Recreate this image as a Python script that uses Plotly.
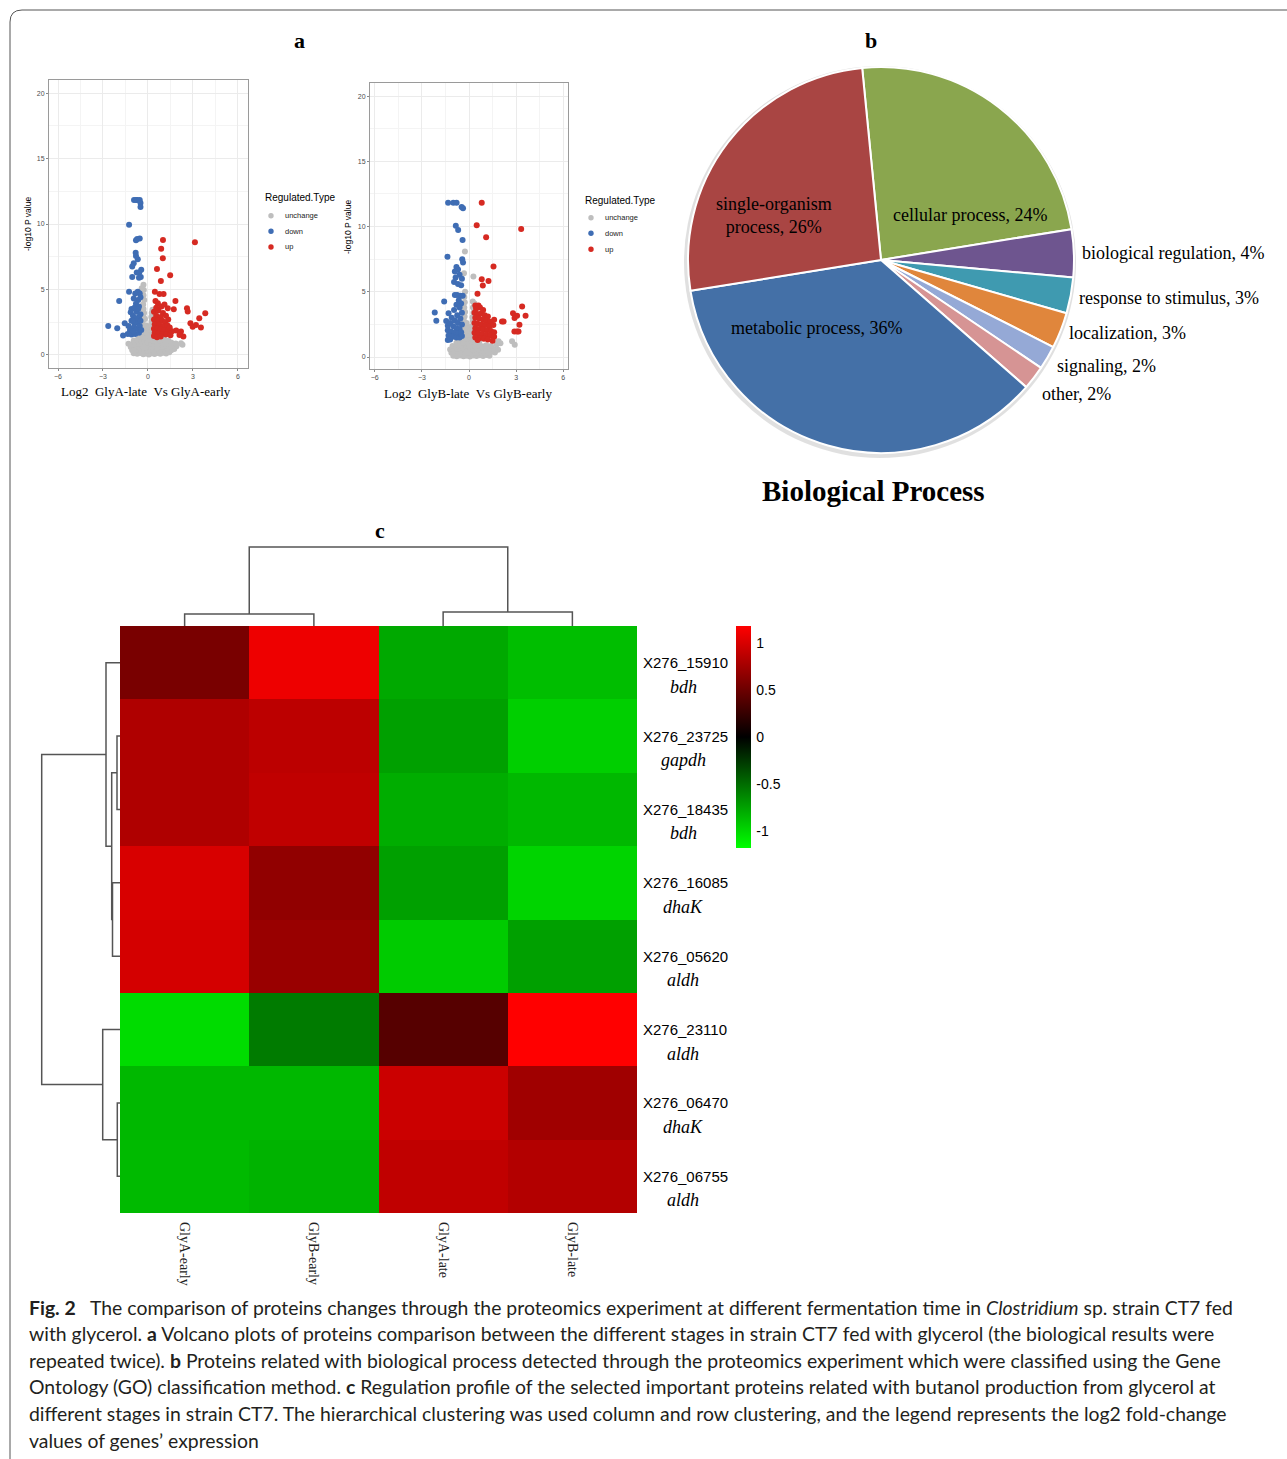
import plotly.graph_objects as go

W, H = 1287, 1459
def px(x): return x / W
def py(y): return 1 - y / H

SERIF = "Liberation Serif"
SANS = "Liberation Sans"

# ---------------- Volcano A data (Log2 GlyA-late Vs GlyA-early) ----------------
volA_unchange = [
(-0.95,0.12),(-0.72,0.08),(-0.5,0.15),(-0.31,0.05),(-0.12,0.1),(0.06,0.04),(0.25,0.12),(0.44,0.07),(0.63,0.14),(0.82,0.09),(1.02,0.16),(1.21,0.1),(1.42,0.2),
(-1.05,0.35),(-0.85,0.3),(-0.64,0.38),(-0.42,0.28),(-0.22,0.36),(-0.03,0.3),(0.17,0.4),(0.36,0.32),(0.55,0.38),(0.74,0.3),(0.93,0.4),(1.12,0.34),(1.32,0.42),(1.55,0.36),(1.75,0.45),
(-1.15,0.6),(-0.93,0.55),(-0.74,0.62),(-0.55,0.56),(-0.35,0.64),(-0.15,0.58),(0.05,0.66),(0.24,0.58),(0.43,0.65),(0.62,0.57),(0.82,0.66),(1.0,0.6),(1.2,0.68),(1.42,0.62),(1.65,0.7),(1.9,0.66),
(-1.3,0.85),(-1.05,0.82),(-0.82,0.9),(-0.6,0.84),(-0.4,0.92),(-0.2,0.86),(0.0,0.95),(0.2,0.87),(0.4,0.93),(0.6,0.85),(0.82,0.92),(1.05,0.86),(1.3,0.9),(1.55,0.95),(1.85,0.88),(2.2,0.9),(2.3,0.78),
(-0.95,1.1),(-0.7,1.15),(-0.48,1.1),(-0.28,1.18),(-0.08,1.1),(0.12,1.2),(0.32,1.12),(0.55,1.18),(0.8,1.1),(1.1,1.15),(1.35,1.08),
(-0.55,1.38),(-0.35,1.42),(-0.15,1.35),(0.05,1.45),(0.25,1.38),(0.4,1.3),
(-0.42,1.65),(-0.22,1.7),(-0.02,1.62),(0.18,1.72),(0.33,1.6),
(-0.36,1.95),(-0.16,2.0),(0.06,1.92),(0.26,2.02),
(-0.32,2.3),(-0.12,2.25),(0.2,2.3),
(-0.35,2.6),(0.24,2.58),(-0.2,2.75),
(-0.3,2.9),(0.22,2.9),
(-0.26,3.2),(0.25,3.2),
(-0.3,3.5),(0.3,3.45),
(-0.32,3.85),(-0.25,4.2),(-0.3,4.55),(-0.28,4.95),(-0.3,5.35),(-0.42,5.1),
]
volA_down = [
(-0.93,11.83),(-0.8,11.83),(-0.71,11.83),(-0.55,11.83),(-0.5,11.6),(-0.5,11.3),
(-1.26,9.95),
(-0.8,8.75),(-0.72,8.85),(-0.55,8.9),
(-0.82,7.8),(-0.8,7.55),(-0.68,7.3),
(-0.95,7.0),(-1.05,6.75),(-0.45,6.5),(-0.58,6.3),(-0.75,6.3),
(-1.05,5.95),(-0.48,5.95),(-0.6,5.9),
(-1.26,4.83),(-0.68,4.83),(-0.55,4.7),(-0.85,4.7),
(-1.92,4.12),(-0.95,4.3),(-0.65,4.2),(-0.5,4.4),
(-0.8,3.9),(-1.1,3.5),(-0.6,3.7),(-0.9,3.6),
(-1.15,3.25),(-0.75,3.3),(-0.5,3.1),(-1.0,3.0),(-0.6,2.9),
(-2.65,2.21),(-2.05,2.04),(-1.55,2.42),(-1.66,1.48),
(-1.3,2.2),(-1.2,1.9),(-1.1,2.6),(-0.9,2.4),(-0.7,2.5),(-0.5,2.6),(-0.95,2.1),(-0.75,2.0),(-0.55,2.2),
(-1.35,1.6),(-1.1,1.55),(-0.85,1.6),(-0.6,1.7),(-1.0,1.8),(-0.45,1.9),
(-0.65,3.5),(-0.85,2.8),(-1.0,2.6),
]
volA_up = [
(1.0,8.78),(0.88,8.1),(0.99,7.38),(3.13,8.6),(0.6,6.56),(1.48,6.08),(0.86,5.65),
(0.46,4.83),(0.77,4.66),(1.04,4.66),(1.83,4.12),(0.5,4.12),(0.66,3.94),(1.32,3.56),(1.72,3.49),
(2.6,3.56),(2.65,3.31),(3.82,3.18),(3.42,2.8),(2.83,2.42),(2.98,2.16),(3.2,2.29),(3.53,2.09),
(1.88,1.86),(2.2,1.78),(2.36,1.4),(2.1,1.53),
(0.4,3.3),(0.7,3.4),(1.0,3.2),(1.2,3.0),(0.55,3.0),(0.85,2.9),(1.35,2.7),(0.4,2.7),(0.65,2.6),
(0.95,2.6),(1.15,2.5),(0.45,2.35),(0.75,2.3),(1.05,2.2),(1.3,2.25),(0.4,2.0),(0.6,2.0),(0.85,1.95),
(1.1,1.9),(1.35,1.85),(0.45,1.7),(0.7,1.65),(0.95,1.6),(1.2,1.55),(0.4,1.45),(0.6,1.35),(0.85,1.4),
(1.5,1.5),(1.6,1.8),(1.45,2.1),(0.55,3.6),(0.9,3.7),(1.1,3.85),
]

# ---------------- Volcano B data (Log2 GlyB-late Vs GlyB-early) ----------------
volB_unchange = [
(-1.0,0.1),(-0.78,0.05),(-0.56,0.12),(-0.35,0.06),(-0.14,0.1),(0.06,0.04),(0.27,0.12),(0.48,0.07),(0.69,0.13),(0.9,0.08),(1.1,0.15),(1.3,0.1),
(-1.12,0.33),(-0.9,0.3),(-0.68,0.37),(-0.46,0.29),(-0.25,0.36),(-0.04,0.3),(0.17,0.38),(0.38,0.31),(0.59,0.37),(0.8,0.3),(1.0,0.38),(1.2,0.33),(1.45,0.4),(1.65,0.35),
(-1.2,0.58),(-0.98,0.55),(-0.76,0.62),(-0.55,0.56),(-0.34,0.64),(-0.13,0.57),(0.08,0.65),(0.29,0.58),(0.5,0.64),(0.71,0.56),(0.92,0.63),(1.13,0.58),(1.35,0.66),(1.6,0.6),(1.85,0.55),
(-1.05,0.85),(-0.82,0.8),(-0.6,0.88),(-0.4,0.82),(-0.2,0.9),(0.0,0.83),(0.2,0.92),(0.4,0.85),(0.62,0.9),(0.85,0.83),(1.1,0.9),(1.4,0.85),(1.75,0.95),(2.0,1.05),(2.74,1.2),(2.91,0.94),(1.88,1.2),
(-0.8,1.1),(-0.58,1.15),(-0.38,1.08),(-0.18,1.17),(0.02,1.1),(0.22,1.18),(0.42,1.1),(0.65,1.15),
(-0.5,1.4),(-0.3,1.45),(-0.1,1.38),(0.1,1.46),(0.28,1.36),
(-0.4,1.7),(-0.2,1.75),(0.0,1.68),(0.2,1.75),
(-0.35,2.05),(-0.15,2.0),(0.1,2.08),(0.25,2.0),
(-0.3,2.4),(-0.1,2.35),(0.22,2.4),
(-0.32,2.75),(0.25,2.75),(-0.15,2.6),
(-0.28,3.1),(0.22,3.05),(-0.25,3.45),(0.28,3.4),
(-0.3,3.8),(0.25,3.8),(0.24,4.25),(0.35,4.1),(-0.27,4.2),(-0.3,4.6),(-0.25,5.0),
(-0.32,6.42),(0.28,6.17),(-0.26,8.08),
]
volB_down = [
(-1.33,11.82),(-1.0,11.82),(-0.79,11.82),(-0.47,11.5),(-0.38,11.4),
(-0.84,10.06),(-0.69,9.73),(-0.41,8.97),(-1.37,7.69),(-0.43,7.49),(-0.38,7.24),
(-0.8,6.9),(-0.9,6.55),(-0.7,6.7),(-0.6,6.3),(-0.85,6.1),(-0.45,6.0),(-0.95,5.75),(-0.7,5.6),(-0.5,5.5),
(-0.9,4.75),(-0.75,4.75),(-0.55,4.7),(-0.4,4.7),(-1.58,4.25),(-0.65,4.35),(-0.5,4.1),(-0.8,4.0),
(-2.18,3.41),(-2.08,2.78),(-1.3,3.35),(-0.95,3.6),(-0.6,3.8),(-0.45,3.4),(-0.75,3.2),(-1.1,3.0),(-0.55,2.95),(-0.9,2.8),
(-1.45,2.75),(-1.35,2.4),(-1.2,2.6),(-0.7,2.6),(-0.45,2.5),(-1.0,2.35),(-0.8,2.2),(-0.6,2.15),
(-1.35,2.05),(-1.15,1.95),(-0.95,1.85),(-0.7,1.8),(-0.5,1.9),(-1.3,1.65),(-1.05,1.55),(-0.8,1.5),
(-1.35,1.3),(-0.6,1.5),(-0.45,1.6),(-1.2,1.35),
]
volB_up = [
(0.81,11.82),(0.49,10.09),(1.09,9.17),(3.32,9.81),(1.56,6.93),(0.81,5.96),(1.24,5.83),(0.88,5.48),(0.54,4.84),
(0.4,3.95),(0.6,3.95),(0.7,3.8),(1.6,2.85),(2.1,2.73),(2.2,2.73),(2.8,3.36),(3.06,3.16),(2.9,2.98),
(3.38,3.87),(3.6,3.16),(3.21,2.47),(2.89,1.96),(3.06,1.96),(3.15,1.95),
(0.35,3.4),(0.55,3.3),(0.8,3.35),(1.0,3.2),(1.2,3.1),(0.4,3.0),(0.65,2.95),(0.9,2.85),(1.1,2.8),
(1.35,2.7),(0.35,2.6),(0.55,2.55),(0.8,2.5),(1.05,2.45),(1.3,2.35),(1.55,2.45),(0.4,2.2),(0.65,2.15),
(0.9,2.1),(1.15,2.05),(1.4,2.0),(1.6,1.9),(0.35,1.85),(0.6,1.8),(0.85,1.75),(1.1,1.7),(1.35,1.65),
(1.6,1.55),(0.4,1.5),(0.7,1.45),(0.95,1.4),(1.2,1.35),(1.5,1.25),(0.55,1.3),(0.45,3.7),(0.9,3.6),
]

reg_types = ["unchange", "down", "up"]
reg_colors = ["#BEBEBE", "#3F6DB4", "#D62A22"]
volcano_ticks_x = [-6, -3, 0, 3, 6]
volcano_ticks_y = [0, 5, 10, 15, 20]

# ---------------- Pie data ----------------
pie_labels = ["cellular process", "biological regulation", "response to stimulus", "localization",
              "signaling", "other", "metabolic process", "single-organism process"]
pie_values = [24, 4, 3, 3, 2, 2, 36, 26]
pie_colors = ["#8AA64E", "#6E558F", "#3F9AB0", "#E0863C", "#95A9D6", "#D69494", "#4470A7", "#A94543"]

# ---------------- Heatmap data ----------------
heat_cols = ["GlyA-early", "GlyB-early", "GlyA-late", "GlyB-late"]
heat_ids = ["X276_15910", "X276_23725", "X276_18435", "X276_16085",
            "X276_05620", "X276_23110", "X276_06470", "X276_06755"]
heat_genes = ["bdh", "gapdh", "bdh", "dhaK", "aldh", "aldh", "dhaK", "aldh"]
heat_values = [
    [0.56, 1.10, -0.78, -0.88],
    [0.81, 0.87, -0.74, -0.96],
    [0.81, 0.89, -0.80, -0.85],
    [1.00, 0.67, -0.74, -0.98],
    [0.98, 0.71, -0.94, -0.74],
    [-1.02, -0.57, 0.40, 1.18],
    [-0.85, -0.85, 0.94, 0.74],
    [-0.86, -0.83, 0.89, 0.83],
]
colorbar_ticks = [1, 0.5, 0, -0.5, -1]
# dendrogram merges (child_a, child_b, height); indices >= n refer to earlier merges
row_merges = [(1, 2, 3.0), (6, 7, 2.7), (3, 4, 7.5), (8, 10, 8.3), (0, 11, 14.0), (5, 9, 17.3), (12, 13, 78.3)]
col_merges = [(0, 1, 12.0), (2, 3, 14.0), (4, 5, 79.0)]

caption_lines = [
    "<b>Fig. 2</b>\u00a0\u00a0 The comparison of proteins changes through the proteomics experiment at different fermentation time in <i>Clostridium</i> sp. strain CT7 fed",
    "with glycerol. <b>a</b> Volcano plots of proteins comparison between the different stages in strain CT7 fed with glycerol (the biological results were",
    "repeated twice). <b>b</b> Proteins related with biological process detected through the proteomics experiment which were classified using the Gene",
    "Ontology (GO) classification method. <b>c</b> Regulation profile of the selected important proteins related with butanol production from glycerol at",
    "different stages in strain CT7. The hierarchical clustering was used column and row clustering, and the legend represents the log2 fold-change",
    "values of genes\u2019 expression",
]

fig = go.Figure()

# ---------------- Volcano traces ----------------
for xa, ya, groups in [("x", "y", [volA_unchange, volA_down, volA_up]),
                       ("x2", "y2", [volB_unchange, volB_down, volB_up])]:
    for pts, nm, col in zip(groups, reg_types, reg_colors):
        fig.add_trace(go.Scatter(x=[p[0] for p in pts], y=[p[1] for p in pts], mode="markers",
                                 marker=dict(color=col, size=6, line=dict(width=0)),
                                 name=nm, xaxis=xa, yaxis=ya, showlegend=False, hoverinfo="skip"))

# ---------------- Pie ----------------
fig.add_trace(go.Pie(values=pie_values, labels=pie_labels, sort=False, direction="clockwise",
                     rotation=-5.6, textinfo="none", hoverinfo="skip", showlegend=False,
                     marker=dict(colors=pie_colors, line=dict(color="white", width=2)),
                     domain=dict(x=[px(687), px(1075)], y=[py(453), py(67)])))

# ---------------- Heatmap ----------------
fig.add_trace(go.Heatmap(z=heat_values, x=list(range(len(heat_cols))), y=list(range(len(heat_ids))),
                         colorscale=[[0, "#00FF00"], [0.5, "#000000"], [1, "#FF0000"]],
                         zmin=-1.18, zmax=1.18, xaxis="x3", yaxis="y3", hoverinfo="skip",
                         colorbar=dict(thickness=15, thicknessmode="pixels", len=222 / H, lenmode="fraction",
                                       x=px(736), xanchor="left", y=py(626), yanchor="top",
                                       xpad=0, ypad=0, outlinewidth=0,
                                       ticks="outside", ticklen=3, tickcolor="rgba(0,0,0,0)",
                                       tickvals=colorbar_ticks, ticktext=[str(t) for t in colorbar_ticks],
                                       tickfont=dict(family=SANS, size=14, color="black"))))

def dendro(merges, n):
    pos = list(range(n)); hts = [0.0] * n
    p_list, h_list = [], []
    for a, b, h in merges:
        p_list += [pos[a], pos[a], pos[b], pos[b], None]
        h_list += [hts[a], h, h, hts[b], None]
        pos.append((pos[a] + pos[b]) / 2); hts.append(h)
    return p_list, h_list

cp, ch = dendro(col_merges, len(heat_cols))
fig.add_trace(go.Scatter(x=cp, y=ch, mode="lines", line=dict(color="#555555", width=1.5),
                         xaxis="x4", yaxis="y4", showlegend=False, hoverinfo="skip"))
rp, rh = dendro(row_merges, len(heat_ids))
fig.add_trace(go.Scatter(x=rh, y=rp, mode="lines", line=dict(color="#555555", width=1.5),
                         xaxis="x5", yaxis="y5", showlegend=False, hoverinfo="skip"))

# ---------------- Axes ----------------
def volcano_axes(xdom, ydom, xr, yr, anchor_x, anchor_y):
    common = dict(showline=True, mirror=True, linecolor="#9A9A9A", linewidth=1,
                  gridcolor="#EBEBEB", gridwidth=1, zeroline=False, ticks="outside",
                  ticklen=2, tickcolor="#888888", tickfont=dict(family=SANS, size=7, color="#4D4D4D"))
    xa = dict(domain=xdom, range=xr, tickvals=volcano_ticks_x, anchor=anchor_y,
              minor=dict(dtick=1.5, tick0=0, showgrid=True, gridcolor="#F4F4F4", ticks=""), **common)
    ya = dict(domain=ydom, range=yr, tickvals=volcano_ticks_y, anchor=anchor_x,
              minor=dict(dtick=2.5, tick0=0, showgrid=True, gridcolor="#F4F4F4", ticks=""), **common)
    return xa, ya

xa1, ya1 = volcano_axes([px(49), px(248)], [py(368), py(80)], [-6.6, 6.67], [-1, 21], "x", "y")
xa2, ya2 = volcano_axes([px(370), px(568)], [py(369), py(83)], [-6.3, 6.3], [-0.92, 21], "x2", "y2")

hide = dict(showgrid=False, zeroline=False, showticklabels=False, showline=False, ticks="")
fig.update_layout(
    width=W, height=H, margin=dict(l=0, r=0, t=0, b=0),
    paper_bgcolor="white", plot_bgcolor="white", showlegend=False,
    xaxis=xa1, yaxis=ya1, xaxis2=xa2, yaxis2=ya2,
    xaxis3=dict(domain=[px(120), px(637)], range=[-0.5, 3.5], anchor="y3",
                tickvals=list(range(len(heat_cols))), ticktext=heat_cols, tickangle=90,
                ticks="", showgrid=False, zeroline=False, showline=False, ticklabelstandoff=8,
                tickfont=dict(family=SERIF, size=14, color="#222222")),
    yaxis3=dict(domain=[py(1213), py(626)], range=[7.5, -0.5], anchor="x3", **hide),
    xaxis4=dict(domain=[px(120), px(637)], range=[-0.5, 3.5], anchor="y4", **hide),
    yaxis4=dict(domain=[py(626), py(526)], range=[0, 100], anchor="x4", **hide),
    xaxis5=dict(domain=[px(20), px(120)], range=[100, 0], anchor="y5", **hide),
    yaxis5=dict(domain=[py(1213), py(626)], range=[7.5, -0.5], anchor="x5", **hide),
)

ann = []
def A(text, x, y, size, family=SANS, xanchor="center", yanchor="middle", color="black", angle=0, **kw):
    ann.append(dict(text=text, x=px(x), y=py(y), xref="paper", yref="paper", showarrow=False,
                    xanchor=xanchor, yanchor=yanchor, textangle=angle,
                    font=dict(family=family, size=size, color=color), **kw))

# panel letters
A("<b>a</b>", 299, 41, 22, SERIF)
A("<b>b</b>", 871, 41, 22, SERIF)
A("<b>c</b>", 380, 530, 22, SERIF)

# volcano titles
A("-log10 P value", 28, 224, 8.5, angle=-90)
A("Log2\u00a0\u00a0GlyA-late\u00a0\u00a0Vs GlyA-early", 146, 391, 13, SERIF)
A("-log10 P value", 348, 227, 8.5, angle=-90)
A("Log2\u00a0\u00a0GlyB-late\u00a0\u00a0Vs GlyB-early", 468, 393, 13, SERIF)

# volcano legends
shapes = []
for (tx, ty, dx, dys) in [(263, 198, 271, [215.7, 231.3, 247]), (583, 201, 591, [217.7, 233.3, 249.3])]:
    A("Regulated.Type", tx, ty, 10, xanchor="left")
    for nm, col, dy in zip(reg_types, reg_colors, dys):
        shapes.append(dict(type="circle", xref="paper", yref="paper", x0=px(dx - 2.7), x1=px(dx + 2.7),
                           y0=py(dy + 2.7), y1=py(dy - 2.7), fillcolor=col, line=dict(width=0)))
        A(nm, dx + 12, dy, 7.5, xanchor="left", color="#222222")

# pie labels
pie_label_pos = {
    "cellular process": (970, 215, "center"),
    "biological regulation": (1080, 253, "left"),
    "response to stimulus": (1077, 298, "left"),
    "localization": (1067, 333, "left"),
    "signaling": (1055, 366, "left"),
    "other": (1040, 394, "left"),
    "metabolic process": (816, 328, "center"),
    "single-organism process": (774, 215, "center"),
}
for lab, val in zip(pie_labels, pie_values):
    x, y, anc = pie_label_pos[lab]
    t = f"{lab}, {val}%"
    if lab == "single-organism process":
        t = f"single-organism<br>process, {val}%"
    A(t, x, y, 18, SERIF, xanchor=anc)
A("<b>Biological Process</b>", 873, 491, 29, SERIF)

# heatmap row labels
for i, (rid, g) in enumerate(zip(heat_ids, heat_genes)):
    ann.append(dict(text=rid, x=px(641), y=i, xref="paper", yref="y3", showarrow=False,
                    xanchor="left", yanchor="middle", font=dict(family=SANS, size=15, color="black")))
    ann.append(dict(text=f"<i>{g}</i>", x=px(683), y=i, xref="paper", yref="y3", showarrow=False,
                    xanchor="center", yanchor="middle", yshift=-24,
                    font=dict(family=SERIF, size=18, color="black")))

# caption
for k, line in enumerate(caption_lines):
    A(line, 27, 1307 + k * 26.6, 19.4, "Lato", xanchor="left", color="#231F20")

# pie shadow + frame
shapes.append(dict(type="circle", xref="paper", yref="paper", layer="below",
                   x0=px(684), x1=px(1076), y0=py(458), y1=py(66),
                   fillcolor="rgba(0,0,0,0.12)", line=dict(width=0)))
shapes.append(dict(type="path", xref="paper", yref="paper",
                   path=f"M {px(1300)},{py(10)} L {px(22)},{py(10)} Q {px(10)},{py(10)} {px(10)},{py(22)} L {px(10)},{py(1470)}",
                   line=dict(color="#555555", width=1)))

fig.update_layout(annotations=ann, shapes=shapes)
fig.write_html("out.html", config={"displayModeBar": False},
               post_script="document.body.style.margin='0px';document.body.style.overflow='hidden';")
